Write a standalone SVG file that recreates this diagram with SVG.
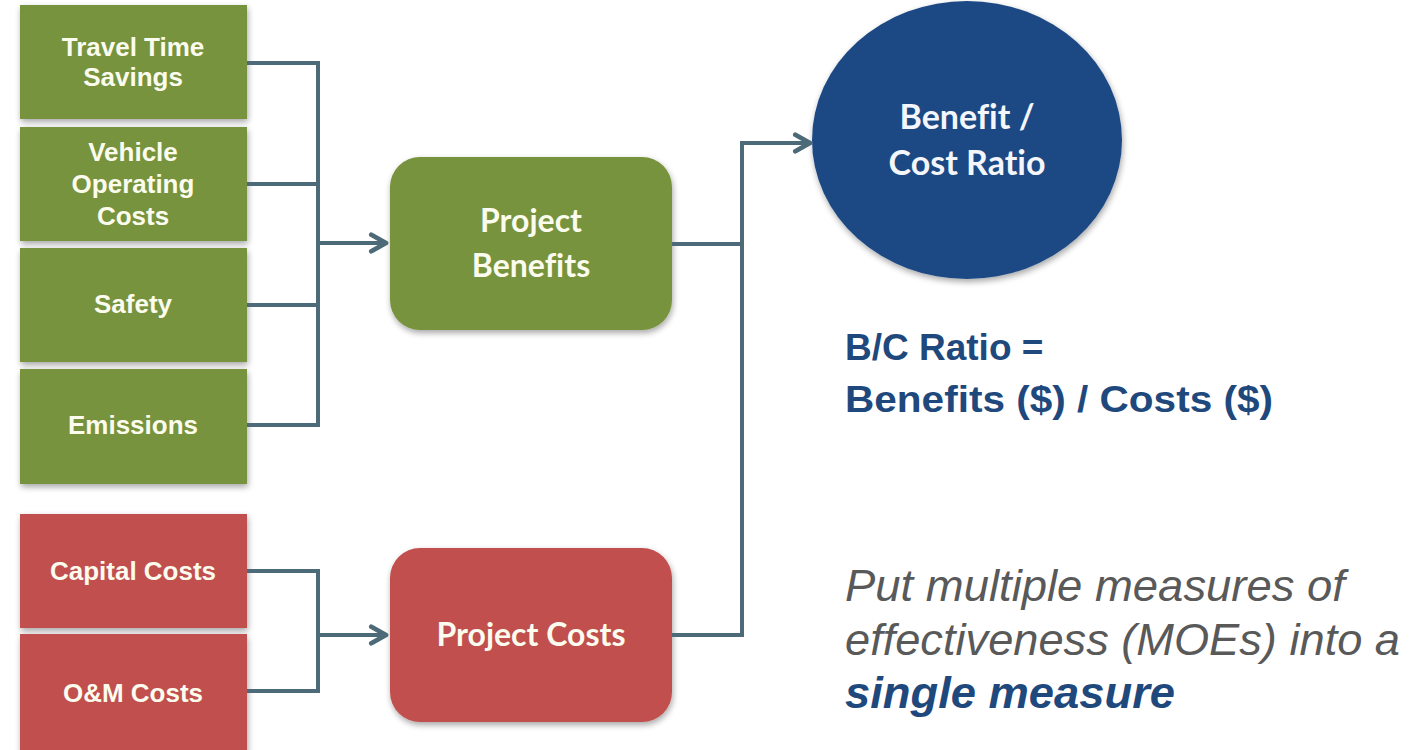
<svg xmlns="http://www.w3.org/2000/svg" width="1409" height="750" viewBox="0 0 1409 750">
  <defs>
    <filter id="shadow" x="-10%" y="-10%" width="130%" height="130%">
      <feGaussianBlur in="SourceAlpha" stdDeviation="3"/>
      <feOffset dx="1" dy="3" result="b"/>
      <feComponentTransfer><feFuncA type="linear" slope="0.35"/></feComponentTransfer>
      <feMerge><feMergeNode/><feMergeNode in="SourceGraphic"/></feMerge>
    </filter>
    <marker id="arrow" viewBox="0 0 12 12" refX="10" refY="6" markerWidth="5.5" markerHeight="5.5" markerUnits="strokeWidth" orient="auto">
      <polyline points="2,1.5 10,6 2,10.5" fill="none" stroke="#4d6a78" stroke-width="2.6" stroke-linecap="round" stroke-linejoin="round"/>
    </marker>
    <style>
      .green { fill: #77933c; filter: url(#shadow); }
      .red { fill: #c0504d; filter: url(#shadow); }
      .blue { fill: #1f4a84; filter: url(#shadow); }
      .lbl { font-family: "Liberation Sans", Arial, sans-serif; font-weight: bold; font-size: 26px; fill: #fbfbee; text-anchor: middle; }
      .big { font-family: Lato, "Open Sans", sans-serif; font-weight: bold; font-size: 32px; fill: #fbfbee; text-anchor: middle; font-variant-ligatures: none; }
      .circ { font-family: Lato, "Open Sans", sans-serif; font-weight: bold; font-size: 34px; fill: #f4f6fb; text-anchor: middle; font-variant-ligatures: none; }
      .conn { fill: none; stroke: #4d6a78; stroke-width: 4; }
      .formula { font-family: "Liberation Sans", Arial, sans-serif; font-weight: bold; font-size: 37px; fill: #1f497d; }
      .note { font-family: "Liberation Sans", Arial, sans-serif; font-style: italic; font-size: 44px; fill: #595959; }
      .em { font-family: "Liberation Sans", Arial, sans-serif; font-style: italic; font-weight: bold; font-size: 44px; fill: #1f497d; }
    </style>
  </defs>
  <rect width="1409" height="750" fill="#ffffff"/>

  <!-- benefit components -->
  <g id="travel-time">
    <rect class="green" x="20" y="5" width="227" height="114"/>
    <text class="lbl" x="133" y="56">Travel Time</text>
    <text class="lbl" x="133" y="86">Savings</text>
  </g>
  <g id="vehicle-operating">
    <rect class="green" x="20" y="127" width="227" height="114"/>
    <text class="lbl" x="133" y="161">Vehicle</text>
    <text class="lbl" x="133" y="193">Operating</text>
    <text class="lbl" x="133" y="225">Costs</text>
  </g>
  <g id="safety">
    <rect class="green" x="20" y="248" width="227" height="114"/>
    <text class="lbl" x="133" y="313">Safety</text>
  </g>
  <g id="emissions">
    <rect class="green" x="20" y="369" width="227" height="115"/>
    <text class="lbl" x="133" y="434">Emissions</text>
  </g>

  <!-- cost components -->
  <g id="capital-costs">
    <rect class="red" x="20" y="514" width="227" height="114"/>
    <text class="lbl" x="133" y="580">Capital Costs</text>
  </g>
  <g id="om-costs">
    <rect class="red" x="20" y="634" width="227" height="120"/>
    <text class="lbl" x="133" y="702">O&amp;M Costs</text>
  </g>

  <!-- aggregates -->
  <g id="project-benefits">
    <rect class="green" x="390" y="157" width="282" height="173" rx="30"/>
    <text class="big" x="531" y="232">Project</text>
    <text class="big" x="531" y="277">Benefits</text>
  </g>
  <g id="project-costs">
    <rect class="red" x="390" y="548" width="282" height="174" rx="30"/>
    <text class="big" x="531" y="646">Project Costs</text>
  </g>

  <g id="bc-ratio">
    <ellipse class="blue" cx="967" cy="140" rx="155" ry="139"/>
    <text class="circ" x="967" y="129">Benefit /</text>
    <text class="circ" x="967" y="175">Cost Ratio</text>
  </g>

  <!-- connectors -->
  <g id="connectors">
    <path class="conn" d="M247,63 H318 V425 H247 M247,184 H318 M247,305 H318"/>
    <path class="conn" d="M318,243 H386" marker-end="url(#arrow)"/>
    <path class="conn" d="M247,571 H318 V691 H247"/>
    <path class="conn" d="M318,635 H386" marker-end="url(#arrow)"/>
    <path class="conn" d="M672,244 H742 M672,635 H742 V143"/>
    <path class="conn" d="M740,143 H810" marker-end="url(#arrow)"/>
  </g>

  <!-- formula and note -->
  <g id="formula">
    <text class="formula" x="845" y="360">B/C Ratio =</text>
    <text class="formula" x="845" y="412" textLength="428" lengthAdjust="spacingAndGlyphs">Benefits ($) / Costs ($)</text>
  </g>
  <g id="note">
    <text class="note" x="845" y="601" textLength="500" lengthAdjust="spacingAndGlyphs">Put multiple measures of</text>
    <text class="note" x="845" y="655" textLength="555" lengthAdjust="spacingAndGlyphs">effectiveness (MOEs) into a</text>
    <text class="em" x="845" y="708" textLength="330" lengthAdjust="spacingAndGlyphs">single measure</text>
  </g>
</svg>
